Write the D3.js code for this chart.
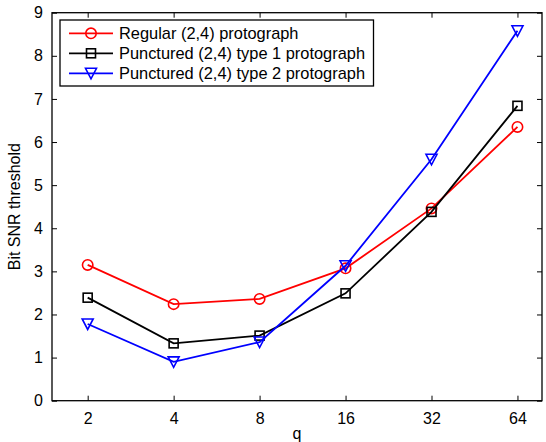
<!DOCTYPE html>
<html><head><meta charset="utf-8">
<script src="https://cdn.jsdelivr.net/npm/d3@7/dist/d3.min.js"></script>
<style>body{margin:0;background:#fff}svg{display:block}text{font-family:"Liberation Sans",Arial,Helvetica,sans-serif}</style>
</head><body><svg id="c" width="546" height="442"></svg>
<script>
const qValues = [2, 4, 8, 16, 32, 64];
const yTicks = [0,1,2,3,4,5,6,7,8,9];
const regular = [3.15, 2.24, 2.36, 3.07, 4.46, 6.35];
const type1 = [2.39, 1.33, 1.51, 2.49, 4.38, 6.84];
const type2 = [1.78, 0.90, 1.36, 3.13, 5.60, 8.58];
const seriesNames = ["Regular (2,4) protograph","Punctured (2,4) type 1 protograph","Punctured (2,4) type 2 protograph"];
const seriesColors = ["#ff0000","#000000","#0000ff"];
const seriesMarkers = ["circle","square","triangle"];
const seriesData = [regular, type1, type2];

const svg = d3.select("#c");
const L=52, R=542, T=12.7, B=400.7;
const x = d3.scaleLinear().domain([Math.log2(1.5), Math.log2(78)]).range([L,R]);
const y = d3.scaleLinear().domain([0,9]).range([B,T]);
const tl = 5;
const fs = 16;

svg.append("rect").attr("x",L).attr("y",T).attr("width",R-L).attr("height",B-T)
  .attr("fill","none").attr("stroke","#000").attr("stroke-width",1.3);

const xa = svg.append("g").attr("transform",`translate(0,${B})`)
  .call(d3.axisBottom(x).tickValues(qValues.map(q=>Math.log2(q))).tickFormat((d,i)=>qValues[i]).tickSizeInner(-tl).tickSizeOuter(0).tickPadding(12));
const xt = svg.append("g").attr("transform",`translate(0,${T})`)
  .call(d3.axisTop(x).tickValues(qValues.map(q=>Math.log2(q))).tickFormat("").tickSizeInner(-tl).tickSizeOuter(0));
const ya = svg.append("g").attr("transform",`translate(${L},0)`)
  .call(d3.axisLeft(y).tickValues(yTicks).tickFormat(d3.format("d")).tickSizeInner(-tl).tickSizeOuter(0).tickPadding(9));
const yr = svg.append("g").attr("transform",`translate(${R},0)`)
  .call(d3.axisRight(y).tickValues(yTicks).tickFormat("").tickSizeInner(-tl).tickSizeOuter(0));
[xa,xt,ya,yr].forEach(g=>{g.attr("font-size",fs).attr("font-family",'"Liberation Sans",Arial,sans-serif');
  g.select(".domain").remove();g.selectAll("line").attr("stroke","#000");
  g.selectAll("text").attr("fill","#000");});

svg.append("text").attr("x",(L+R)/2).attr("y",439).attr("text-anchor","middle").attr("font-size",fs).text("q");
svg.append("text").attr("transform",`translate(20,${(T+B)/2}) rotate(-90)`).attr("text-anchor","middle").attr("font-size",fs).text("Bit SNR threshold");

function marker(g, type, cx, cy, color){
  if(type==="circle") g.append("circle").attr("cx",cx).attr("cy",cy).attr("r",5.2).attr("fill","none").attr("stroke",color).attr("stroke-width",1.6);
  else if(type==="square") g.append("rect").attr("x",cx-4.5).attr("y",cy-4.5).attr("width",9).attr("height",9).attr("fill","none").attr("stroke",color).attr("stroke-width",1.6);
  else g.append("path").attr("d",`M${cx-5.5},${cy-5} L${cx+5.5},${cy-5} L${cx},${cy+5.5} Z`).attr("fill","none").attr("stroke",color).attr("stroke-width",1.6);
}

const line = d3.line().x((d,i)=>x(Math.log2(qValues[i]))).y(d=>y(d));
seriesData.forEach((s,k)=>{
  const g = svg.append("g");
  g.append("path").attr("d",line(s)).attr("fill","none").attr("stroke",seriesColors[k]).attr("stroke-width",1.8);
  s.forEach((v,i)=>marker(g, seriesMarkers[k], x(Math.log2(qValues[i])), y(v), seriesColors[k]));
});

const lg = svg.append("g");
lg.append("rect").attr("x",60).attr("y",20).attr("width",313.5).attr("height",66).attr("fill","#fff").attr("stroke","#000").attr("stroke-width",1.3);
seriesNames.forEach((n,k)=>{
  const yy = 33.3 + k*20;
  lg.append("line").attr("x1",69).attr("x2",113).attr("y1",yy).attr("y2",yy).attr("stroke",seriesColors[k]).attr("stroke-width",1.8);
  marker(lg, seriesMarkers[k], 91, yy, seriesColors[k]);
  lg.append("text").attr("x",119).attr("y",yy+5.8).attr("font-size",16.4).attr("textLength",null).text(n);
});
</script></body></html>
